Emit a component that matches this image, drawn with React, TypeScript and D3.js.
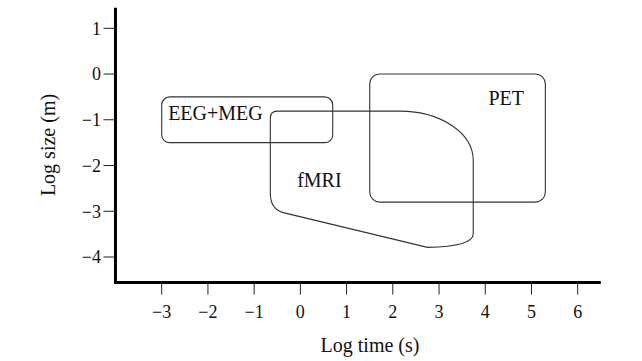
import React from 'react';
import * as d3 from 'd3';

// axis ticks (log10 units)
const timeTicks = [-3, -2, -1, 0, 1, 2, 3, 4, 5, 6];
const sizeTicks = [1, 0, -1, -2, -3, -4];

// regions: [min, max] in log time and log size
const eegMegTime = [-3, 0.7];
const eegMegSize = [-1.5, -0.5];
const petTime = [1.5, 5.3];
const petSize = [-2.8, 0];

// fMRI outline key points (log time, log size)
const fmriTime = [-0.65, 2.16, 3.74, 3.74, 2.75, -0.37, -0.65];
const fmriSize = [-0.81, -0.81, -1.89, -3.49, -3.79, -3.03, -2.61];

// label anchors
const labelNames = ['EEG+MEG', 'PET', 'fMRI'];
const labelTime = [-2.86, 4.07, -0.07];
const labelSize = [-1.0, -0.68, -2.46];

const W = 642;
const H = 361;

export default function App() {
  const x = d3.scaleLinear().domain([-3, 6]).range([161.7, 577.7]);
  const y = d3.scaleLinear().domain([1, -4]).range([28.3, 257]);
  const fmt = d3.format('d');

  const axisY = y(-4.56);
  const axisX = x(-4.0);

  const fx = fmriTime.map(x);
  const fy = fmriSize.map(y);
  const p = d3.path();
  const r = 7;
  p.moveTo(fx[6], fy[6]);
  p.lineTo(fx[0], fy[0] + r);
  p.quadraticCurveTo(fx[0], fy[0], fx[0] + r, fy[0]);
  p.lineTo(fx[1], fy[1]);
  p.bezierCurveTo(
    fx[1] + 0.552 * (fx[2] - fx[1]), fy[1],
    fx[2], fy[2] - 0.552 * (fy[2] - fy[1]),
    fx[2], fy[2]
  );
  p.lineTo(fx[3], fy[3]);
  p.quadraticCurveTo(fx[3], fy[4] - 1, fx[4], fy[4]);
  p.lineTo(fx[5], fy[5]);
  p.quadraticCurveTo(fx[6], fy[5] - 4, fx[6], fy[6]);
  p.closePath();

  const stroke = '#333';

  return (
    <svg width={W} height={H} style={{ position: 'absolute', left: 0, top: 0 }}
      fontFamily="'Liberation Serif', 'Times New Roman', serif">
      <rect width={W} height={H} fill="#fff" />

      {/* regions */}
      <rect x={x(eegMegTime[0])} y={y(eegMegSize[1])}
        width={x(eegMegTime[1]) - x(eegMegTime[0])}
        height={y(eegMegSize[0]) - y(eegMegSize[1])}
        rx={8} fill="none" stroke={stroke} strokeWidth={1.1} />
      <rect x={x(petTime[0])} y={y(petSize[1])}
        width={x(petTime[1]) - x(petTime[0])}
        height={y(petSize[0]) - y(petSize[1])}
        rx={10} fill="none" stroke={stroke} strokeWidth={1.1} />
      <path d={p.toString()} fill="none" stroke={stroke} strokeWidth={1.1} />

      {labelNames.map((n, i) => (
        <text key={n} x={x(labelTime[i])} y={y(labelSize[i])} fontSize={20} fill="#111">{n}</text>
      ))}

      {/* axes */}
      <line x1={axisX} x2={axisX} y1={y(1.45)} y2={axisY + 1.5} stroke="#000" strokeWidth={3} />
      <line x1={axisX - 1.5} x2={x(6.5)} y1={axisY} y2={axisY} stroke="#000" strokeWidth={3} />

      {timeTicks.map(t => (
        <g key={'t' + t}>
          <line x1={x(t)} x2={x(t)} y1={axisY} y2={axisY + 12} stroke="#222" strokeWidth={1} />
          <text x={x(t)} y={318} textAnchor="middle" fontSize={18} fill="#111">{fmt(t)}</text>
        </g>
      ))}
      {sizeTicks.map(t => (
        <g key={'s' + t}>
          <line x1={axisX - 12} x2={axisX} y1={y(t)} y2={y(t)} stroke="#222" strokeWidth={1} />
          <text x={101} y={y(t)} dy="0.35em" textAnchor="end" fontSize={18} fill="#111">{fmt(t)}</text>
        </g>
      ))}

      <text x={370} y={352} textAnchor="middle" fontSize={20} fill="#111">Log time (s)</text>
      <text transform={`translate(55,145) rotate(-90)`} textAnchor="middle" fontSize={20} fill="#111">Log size (m)</text>
    </svg>
  );
}
